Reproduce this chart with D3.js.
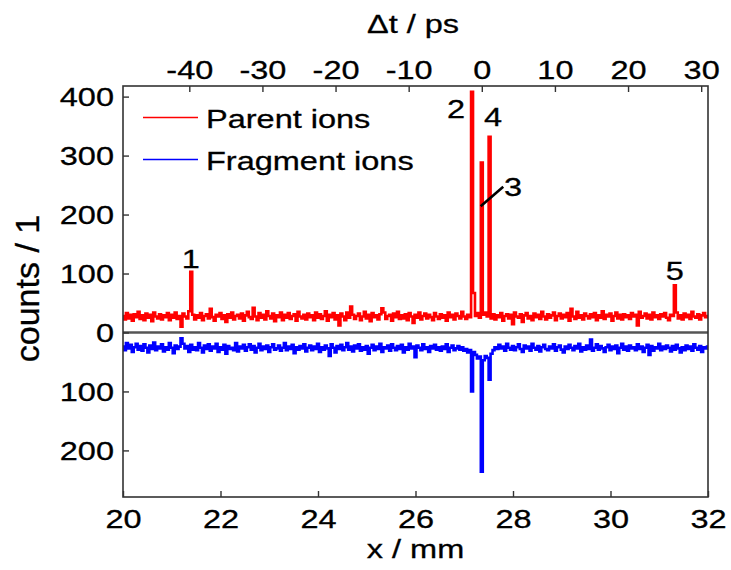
<!DOCTYPE html>
<html>
<head>
<meta charset="utf-8">
<script src="https://cdn.jsdelivr.net/npm/d3@7"></script>
<style>
  html, body { margin: 0; padding: 0; background: #fff; }
  svg { display: block; }
  text { font-family: "Liberation Sans", Arial, sans-serif; fill: #000; stroke: #000; stroke-width: 0.3; }
</style>
</head>
<body>
<svg id="chart" width="731" height="570"></svg>
<script>
// Sampling grid of the position scan (mm)
const xStart = 20, xStep = 0.04;

// Parent-ion counts per position bin
const parentCounts = [
  28,22,33,24,30,20,31,26,35,23,29,21,32,25,30,19,34,27,24,31,
  22,29,26,33,21,30,25,34,23,28,10,32,27,24,36,103,30,22,29,25,
  33,21,28,31,24,40,26,20,30,27,33,23,29,18,31,25,34,22,28,30,
  24,32,20,29,35,26,23,42,27,21,33,25,30,22,36,28,24,32,19,29,
  26,34,21,30,25,33,23,28,31,20,35,27,24,30,22,32,26,29,21,34,
  25,31,23,28,36,20,30,26,33,22,29,12,32,27,21,34,25,44,30,23,
  28,32,21,27,35,24,30,19,33,26,29,22,31,41,34,23,28,30,20,32,
  26,35,23,29,24,31,21,33,27,16,30,25,34,22,28,32,24,30,26,21,
  33,27,23,31,25,29,20,34,26,30,22,32,28,24,35,27,23,30,26,408,
  67,28,33,25,288,30,34,27,332,24,31,22,29,26,33,20,28,31,24,30,
  14,34,27,25,31,18,29,33,24,28,21,32,26,30,23,35,27,22,31,25,
  29,34,21,28,32,24,30,26,33,20,40,27,23,35,25,29,22,32,28,24,
  31,26,33,21,29,25,36,23,30,27,32,20,28,34,24,30,22,31,26,29,
  23,33,27,30,12,35,25,28,32,24,30,22,34,26,29,23,31,27,33,25,
  21,30,28,80,34,24,29,22,32,26,30,23,35,27,25,31,22,29,33,26,
  28
];

// Fragment-ion counts per position bin (plotted downwards)
const fragmentCounts = [
  -24,-30,-18,-27,-21,-33,-25,-19,-29,-23,-31,-20,-26,-34,-22,-28,-17,-30,-24,-27,
  -20,-32,-25,-29,-18,-26,-35,-22,-28,-24,-10,-19,-27,-23,-33,-21,-29,-25,-30,-18,
  -26,-34,-22,-28,-20,-31,-24,-27,-19,-33,-25,-29,-21,-36,-23,-28,-26,-30,-18,-32,
  -24,-27,-21,-31,-25,-20,-29,-23,-34,-26,-19,-30,-24,-28,-22,-33,-25,-20,-29,-27,
  -22,-31,-26,-18,-30,-24,-28,-21,-35,-25,-29,-23,-27,-20,-32,-26,-22,-30,-24,-28,
  -19,-33,-25,-29,-22,-27,-40,-20,-26,-34,-23,-28,-21,-30,-25,-18,-29,-24,-32,-22,
  -27,-20,-31,-25,-29,-23,-36,-26,-21,-30,-24,-28,-19,-33,-25,-27,-22,-31,-20,-26,
  -30,-23,-28,-21,-34,-25,-29,-19,-27,-24,-42,-22,-26,-30,-20,-28,-25,-33,-23,-27,
  -21,-29,-25,-31,-24,-28,-20,-33,-26,-22,-30,-27,-23,-29,-25,-31,-28,-34,-30,-100,
  -33,-38,-44,-41,-236,-47,-40,-43,-80,-36,-30,-25,-28,-21,-27,-24,-31,-19,-26,-29,
  -23,-30,-25,-20,-28,-33,-22,-27,-24,-31,-19,-26,-29,-23,-32,-25,-21,-28,-30,-24,
  -27,-20,-31,-25,-22,-29,-34,-24,-28,-21,-26,-30,-23,-27,-19,-32,-25,-29,-22,-28,
  -12,-31,-26,-20,-29,-23,-27,-33,-25,-21,-30,-24,-28,-22,-35,-26,-19,-29,-24,-31,
  -22,-27,-25,-30,-20,-28,-24,-33,-26,-21,-38,-23,-31,-25,-27,-19,-30,-24,-28,-22,
  -26,-32,-23,-29,-21,-27,-34,-25,-30,-22,-28,-24,-31,-20,-26,-29,-23,-33,-25,-27,
  -24
];

// Axis ticks
const xTicks = [20, 22, 24, 26, 28, 30, 32];
const tTicks = [-40, -30, -20, -10, 0, 10, 20, 30];
const yTicks = [400, 300, 200, 100, 0, -100, -200];

// Delay axis: position of zero delay and mm per ps of delay
const t0Position = 27.36, mmPerPs = 0.15;

// Numbered peak labels [x (mm), counts, label]
const peakLabels = [
  [21.39, 109, "1"],
  [26.83, 363, "2"],
  [27.59, 351, "4"],
  [28.00, 231, "3"],
  [31.32, 89, "5"]
];
// Pointer from label 3 to its peak [x0, y0, x1, y1] in (mm, counts)
const pointer3 = [27.337, 214, 27.80, 247];

const series = [
  { name: "Parent ions", color: "#ff0000", values: parentCounts },
  { name: "Fragment ions", color: "#0000ff", values: fragmentCounts }
];

const svg = d3.select("#chart");
const plot = { left: 123, right: 708, top: 86, bottom: 497 };
const stretch = 1.25;
const fontSize = 26;
const frameColor = "#333";

const x = d3.scaleLinear().domain([20, 32]).range([plot.left, plot.right]);
const t = d3.scaleLinear()
  .domain([(20 - t0Position) / mmPerPs, (32 - t0Position) / mmPerPs])
  .range([plot.left, plot.right]);
const y = d3.scaleLinear().domain([-279, 418]).range([plot.bottom, plot.top]);

svg.append("clipPath").attr("id", "plotClip")
  .append("rect")
  .attr("x", plot.left).attr("y", plot.top)
  .attr("width", plot.right - plot.left).attr("height", plot.bottom - plot.top);

// Zero baseline
svg.append("line")
  .attr("x1", plot.left).attr("x2", plot.right)
  .attr("y1", y(0)).attr("y2", y(0))
  .attr("stroke", "#555").attr("stroke-width", 2.5);

// Data traces, drawn as histogram steps
const line = d3.line()
  .curve(d3.curveStep)
  .x((d, i) => x(xStart + i * xStep))
  .y(d => y(d));

const traces = svg.append("g").attr("clip-path", "url(#plotClip)");
series.forEach(s => {
  traces.append("path")
    .datum(s.values)
    .attr("fill", "none")
    .attr("stroke", s.color)
    .attr("stroke-width", 2.6)
    .attr("d", line);
});

// Frame
svg.append("rect")
  .attr("x", plot.left).attr("y", plot.top)
  .attr("width", plot.right - plot.left).attr("height", plot.bottom - plot.top)
  .attr("fill", "none").attr("stroke", frameColor).attr("stroke-width", 1.6);

function styleAxis(g) {
  g.select(".domain").remove();
  g.selectAll(".tick line").attr("stroke", frameColor).attr("stroke-width", 1.4);
  g.selectAll(".tick text")
    .attr("font-size", fontSize)
    .attr("font-family", '"Liberation Sans", Arial, sans-serif')
    .attr("fill", "#000");
}

// Bottom axis (mm)
const gx = svg.append("g")
  .attr("transform", `translate(0,${plot.bottom})`)
  .call(d3.axisBottom(x).tickValues(xTicks).tickSize(-6).tickPadding(0).tickFormat(d => String(d)));
styleAxis(gx);
gx.selectAll(".tick text").attr("dy", null).attr("y", 0)
  .attr("transform", `translate(0,31) scale(${stretch},1)`);

// Top axis (ps)
const gt = svg.append("g")
  .attr("transform", `translate(0,${plot.top})`)
  .call(d3.axisTop(t).tickValues(tTicks).tickSize(-6).tickPadding(0).tickFormat(d => String(d)));
styleAxis(gt);
gt.selectAll(".tick text").attr("dy", null).attr("y", 0)
  .attr("transform", `translate(0,-7) scale(${stretch},1)`);

// Left axis (counts), magnitudes only
const gy = svg.append("g")
  .attr("transform", `translate(${plot.left},0)`)
  .call(d3.axisLeft(y).tickValues(yTicks).tickSize(-6).tickPadding(0).tickFormat(d => String(Math.abs(d))));
styleAxis(gy);
gy.selectAll(".tick text").attr("x", 0).attr("dy", "0.35em")
  .attr("transform", `translate(-9,0) scale(${stretch},1)`);

// Axis titles
function label(txt, px, py, size) {
  return svg.append("text")
    .attr("transform", `translate(${px},${py}) scale(${stretch},1)`)
    .attr("text-anchor", "middle")
    .attr("font-size", size)
    .text(txt);
}
label("x / mm", (plot.left + plot.right) / 2, 558, fontSize);
label("\u0394t / ps", 413, 33, fontSize);
svg.append("text")
  .attr("transform", `translate(39,${(plot.top + plot.bottom) / 2 - 3}) rotate(-90)`)
  .attr("text-anchor", "middle")
  .attr("font-size", 34)
  .text("counts / 1");

// Legend
const legend = svg.append("g");
series.forEach((s, i) => {
  const ly = 117.5 + i * 42;
  legend.append("line")
    .attr("x1", 143).attr("x2", 198)
    .attr("y1", ly).attr("y2", ly)
    .attr("stroke", s.color).attr("stroke-width", 1.5);
  legend.append("text")
    .attr("transform", `translate(206,${ly + 10}) scale(${stretch},1)`)
    .attr("font-size", fontSize)
    .text(s.name);
});

// Peak numbers
peakLabels.forEach(([px, py, txt]) => {
  svg.append("text")
    .attr("transform", `translate(${x(px)},${y(py)}) scale(${stretch},1)`)
    .attr("text-anchor", "middle")
    .attr("font-size", fontSize)
    .text(txt);
});
svg.append("line")
  .attr("x1", x(pointer3[0])).attr("y1", y(pointer3[1]))
  .attr("x2", x(pointer3[2])).attr("y2", y(pointer3[3]))
  .attr("stroke", "#000").attr("stroke-width", 2.6);
</script>
</body>
</html>
